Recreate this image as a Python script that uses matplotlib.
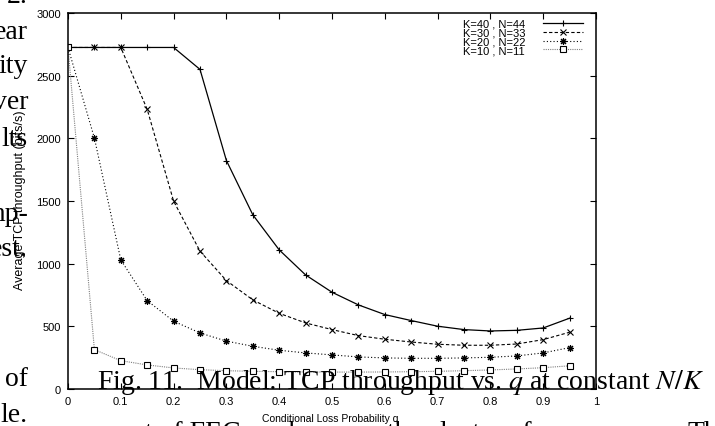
import matplotlib
matplotlib.use('Agg')
import matplotlib.pyplot as plt

# conditional loss probability q
q = [0.0, 0.05, 0.1, 0.15, 0.2, 0.25, 0.3, 0.35, 0.4, 0.45,
	0.5, 0.55, 0.6, 0.65, 0.7, 0.75, 0.8, 0.85, 0.9, 0.95]

# average TCP throughput (bits/s)
k40_n44 = [2725, 2725, 2725, 2725, 2725, 2550, 1823, 1390, 1110, 910,
	772, 671, 594, 546, 501, 474, 463, 468, 487, 565]
k30_n33 = [2725, 2725, 2725, 2231, 1499, 1100, 865, 711, 604, 527,
	474, 426, 397, 375, 357, 349, 349, 359, 394, 453]
k20_n22 = [2725, 2002, 1030, 705, 541, 447, 382, 341, 309, 288,
	272, 256, 248, 245, 245, 248, 253, 264, 288, 330]
k10_n11 = [2725, 314, 226, 192, 168, 154, 146, 141, 138, 136,
	135, 135, 136, 138, 141, 146, 152, 160, 170, 185]

series_labels = ["K=40 , N=44", "K=30 , N=33", "K=20 , N=22", "K=10 , N=11"]

x_ticks = [0, 0.1, 0.2, 0.3, 0.4, 0.5, 0.6, 0.7, 0.8, 0.9, 1]
x_tick_labels = ["0", "0.1", "0.2", "0.3", "0.4", "0.5", "0.6", "0.7", "0.8", "0.9", "1"]
y_ticks = [0, 500, 1000, 1500, 2000, 2500, 3000]

x_label = "Conditional Loss Probability q"
y_label = "Average TCP throughput (bits/s)"

# paper text that overlaps the figure (page crop)
left_words = ["2.", "ear", "ity", "ver", "lts", "mp-", "est.", "of", "le."]
caption = r"Fig. 11.  Model: TCP throughput vs. $q$ at constant $N/K$"
bottom_words = ["ment of FEC  and", "the cluster of", "The"]

W, H = 715, 427
plt.rcParams['mathtext.fontset'] = 'stix'
sans = 'Liberation Sans'
serif = 'Liberation Serif'

fig = plt.figure(figsize=(W / 100, H / 100), dpi=100)
ax = fig.add_axes([68 / W, 1 - 390 / H, 528 / W, 376 / H])

ax.plot(q, k40_n44, color='black', lw=0.9, ls='-', marker='+', ms=5, mew=0.8,
	label=series_labels[0])
ax.plot(q, k30_n33, color='black', lw=0.8, ls=(0, (3, 2)), marker='x', ms=4, mew=0.8,
	label=series_labels[1])
ax.plot(q, k20_n22, color='black', lw=0.8, ls=(0, (1, 2)), marker=(8, 2, 0), ms=5, mew=0.8,
	label=series_labels[2])
ax.plot(q, k10_n11, color='#808080', lw=0.8, ls=(0, (1, 1)), marker='s', ms=4,
	mfc='white', mec='black', mew=0.8, label=series_labels[3])

ax.set_xlim(0, 1)
ax.set_ylim(0, 3000)
ax.set_xticks(x_ticks)
ax.set_xticklabels(x_tick_labels)
ax.set_yticks(y_ticks)
ax.tick_params(direction='in', length=4.5, width=0.8, top=True, right=True,
	labelsize=8, pad=5)
for lab in ax.get_xticklabels() + ax.get_yticklabels():
	lab.set_fontfamily(sans)
for sp in ax.spines.values():
	sp.set_linewidth(1.1)

leg = ax.legend(loc='upper right', bbox_to_anchor=(0.975, 0.985), frameon=False,
	markerfirst=False, handlelength=3.6, handletextpad=1.6, labelspacing=-0.1,
	borderpad=0, borderaxespad=0, prop={'family': sans, 'size': 8})

fig.text(20 / W, 1 - 200 / H, y_label, rotation=90, ha='center', va='center',
	fontsize=9, family=sans)
fig.text(330 / W, 1 - 419 / H, x_label, ha='center', va='center',
	fontsize=7.5, family=sans)

# overlapping page text
left_base = [3, 39, 73, 109, 146, 221, 256, 386, 422]
for word, yb in zip(left_words, left_base):
	fig.text(28 / W, 1 - yb / H, word, ha='right', va='baseline', fontsize=20, family=serif)
fig.text(97 / W, 1 - 389 / H, caption, ha='left', va='baseline', fontsize=20, family=serif)
bottom_x = [97, 387, 688]
for word, xb in zip(bottom_words, bottom_x):
	fig.text(xb / W, 1 - 440 / H, word, ha='left', va='baseline', fontsize=20, family=serif)

fig.savefig('out.png', dpi=100)
